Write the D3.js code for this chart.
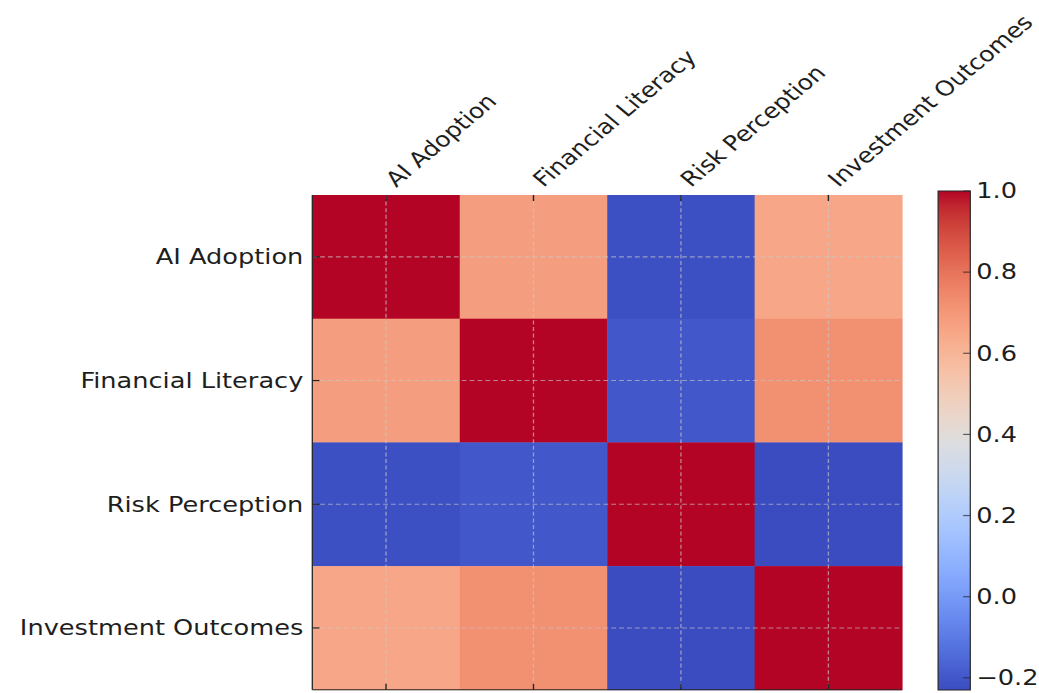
<!DOCTYPE html>
<html>
<head>
<meta charset="utf-8">
<script src="https://cdn.jsdelivr.net/npm/d3@7"></script>
<style>
  html, body { margin: 0; padding: 0; background: #ffffff; }
  svg { display: block; }
  text { font-family: "DejaVu Sans", sans-serif; fill: #1e1e1e; }
</style>
</head>
<body>
<svg id="chart" width="1039" height="693"></svg>
<script>
// Correlation matrix of the four survey constructs (row by row)
const variables = ["AI Adoption", "Financial Literacy", "Risk Perception", "Investment Outcomes"];
const aiAdoption         = [1.00, 0.68, -0.22, 0.65];
const financialLiteracy  = [0.68, 1.00, -0.20, 0.72];
const riskPerception     = [-0.22, -0.20, 1.00, -0.23];
const investmentOutcomes = [0.65, 0.72, -0.23, 1.00];
const colorbarTicks = [-0.2, 0.0, 0.2, 0.4, 0.6, 0.8, 1.0];

const matrix = [aiAdoption, financialLiteracy, riskPerception, investmentOutcomes];
const cells = [];
matrix.forEach((row, i) => row.forEach((v, j) => cells.push({ row: variables[i], col: variables[j], value: v })));

// "coolwarm" diverging colour map (Moreland), 33 control points
const coolwarm = [
  [59,76,192],[68,90,204],[77,104,215],[87,117,225],[98,130,234],[108,142,241],
  [119,154,247],[130,165,251],[141,176,254],[152,185,255],[163,194,255],[174,201,253],
  [184,208,249],[194,213,244],[204,217,238],[213,219,230],[221,221,221],[229,216,209],
  [236,211,197],[241,204,184],[245,196,172],[247,187,159],[247,177,147],[247,166,134],
  [244,154,123],[241,141,111],[236,127,99],[229,112,89],[222,96,77],[213,80,66],
  [203,62,56],[192,40,47],[180,4,38]
].map(c => d3.rgb(c[0], c[1], c[2]).formatHex());

const vmin = d3.min(cells, d => d.value);
const vmax = d3.max(cells, d => d.value);
const color = d3.scaleSequential(d3.piecewise(d3.interpolateRgb, coolwarm)).domain([vmin, vmax]);

// Layout (drawn with square cells, then widened horizontally)
const stretchX = 1.192;
const plotLeft = 262, plotTop = 195, side = 494.8;
const fontSize = 21.5;
const colFontSize = 21;
const tickLen = 6;

const svg = d3.select("#chart");
const root = svg.append("g").attr("transform", `scale(${stretchX},1)`);

const x = d3.scaleBand().domain(variables).range([plotLeft, plotLeft + side]);
const y = d3.scaleBand().domain(variables).range([plotTop, plotTop + side]);

// Heatmap cells
root.append("g").selectAll("rect")
  .data(cells)
  .join("rect")
  .attr("x", d => x(d.col))
  .attr("y", d => y(d.row))
  .attr("width", x.bandwidth() + 0.4)
  .attr("height", y.bandwidth() + 0.4)
  .attr("fill", d => color(d.value));

// Dashed grid at the tick positions
const grid = root.append("g")
  .attr("stroke", "#c8c8c8")
  .attr("stroke-opacity", 0.65)
  .attr("stroke-width", 1.1)
  .attr("stroke-dasharray", "4,2.6");
grid.selectAll("line.v").data(variables).join("line")
  .attr("class", "v")
  .attr("x1", d => x(d) + x.bandwidth() / 2).attr("x2", d => x(d) + x.bandwidth() / 2)
  .attr("y1", plotTop).attr("y2", plotTop + side);
grid.selectAll("line.h").data(variables).join("line")
  .attr("class", "h")
  .attr("y1", d => y(d) + y.bandwidth() / 2).attr("y2", d => y(d) + y.bandwidth() / 2)
  .attr("x1", plotLeft).attr("x2", plotLeft + side);

// Spines
const spines = root.append("g").attr("stroke", "#262626").attr("stroke-width", 1.1);
spines.append("line").attr("x1", plotLeft).attr("x2", plotLeft).attr("y1", plotTop).attr("y2", plotTop + side);
spines.append("line").attr("x1", plotLeft).attr("x2", plotLeft + side).attr("y1", plotTop + side).attr("y2", plotTop + side);

// Inward tick marks
const ticks = root.append("g").attr("stroke", "#262626").attr("stroke-width", 1.2);
variables.forEach(v => {
  const cx = x(v) + x.bandwidth() / 2;
  const cy = y(v) + y.bandwidth() / 2;
  ticks.append("line").attr("x1", plotLeft).attr("x2", plotLeft + tickLen).attr("y1", cy).attr("y2", cy);
  ticks.append("line").attr("x1", cx).attr("x2", cx).attr("y1", plotTop).attr("y2", plotTop + tickLen);
  ticks.append("line").attr("x1", cx).attr("x2", cx).attr("y1", plotTop + side).attr("y2", plotTop + side - tickLen);
});

// Row labels
root.append("g").selectAll("text")
  .data(variables)
  .join("text")
  .attr("x", plotLeft - 7.5)
  .attr("y", d => y(d) + y.bandwidth() / 2)
  .attr("text-anchor", "end")
  .attr("dominant-baseline", "central")
  .attr("font-size", fontSize)
  .text(d => d);

// Column labels, rotated along the top edge
root.append("g").selectAll("text")
  .data(variables)
  .join("text")
  .attr("transform", d => `translate(${x(d) + x.bandwidth() / 2 + 8.5},${plotTop - 7}) rotate(-45)`)
  .attr("text-anchor", "start")
  .attr("font-size", colFontSize)
  .text(d => d);

// Colour bar
const cbX = 787, cbW = 27, cbTop = 191, cbBottom = 690;
const cbScale = d3.scaleLinear().domain([vmin, vmax]).range([cbBottom, cbTop]);

const defs = svg.append("defs");
const grad = defs.append("linearGradient")
  .attr("id", "cbar-grad")
  .attr("x1", 0).attr("y1", 1).attr("x2", 0).attr("y2", 0);
d3.range(0, 1.0001, 1 / 64).forEach(t => {
  grad.append("stop").attr("offset", t).attr("stop-color", color(vmin + t * (vmax - vmin)));
});

root.append("rect")
  .attr("x", cbX).attr("y", cbTop)
  .attr("width", cbW).attr("height", cbBottom - cbTop)
  .attr("fill", "url(#cbar-grad)")
  .attr("stroke", "#262626").attr("stroke-width", 1);

const cbTicks = root.append("g");
cbTicks.selectAll("line").data(colorbarTicks).join("line")
  .attr("x1", cbX + cbW - tickLen).attr("x2", cbX + cbW)
  .attr("y1", d => cbScale(d)).attr("y2", d => cbScale(d))
  .attr("stroke", "#262626").attr("stroke-opacity", 0.7).attr("stroke-width", 1.2);
cbTicks.selectAll("text").data(colorbarTicks).join("text")
  .attr("x", cbX + cbW + 5)
  .attr("y", d => cbScale(d))
  .attr("dominant-baseline", "central")
  .attr("font-size", fontSize)
  .text(d => d3.format(".1f")(d).replace("-", "\u2212"));
</script>
</body>
</html>
